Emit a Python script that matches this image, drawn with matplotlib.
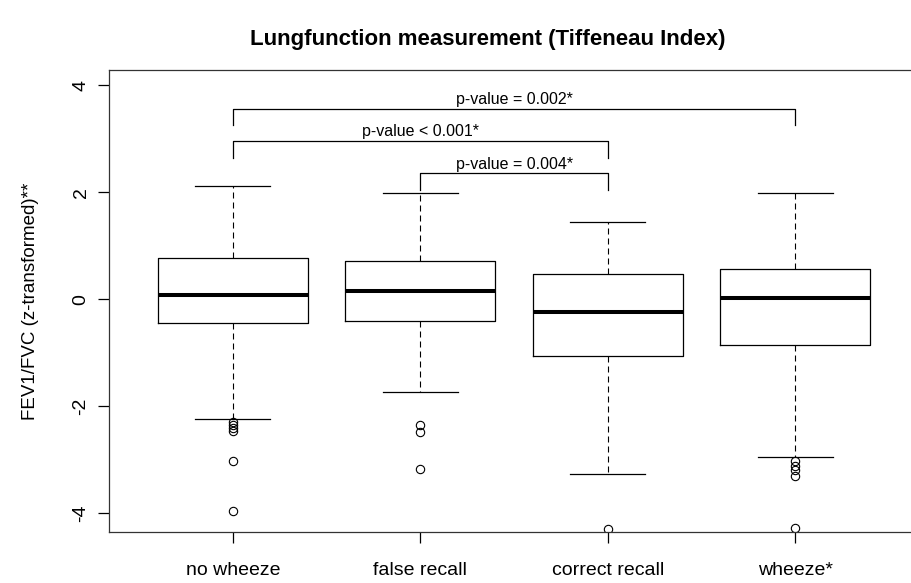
import numpy as np
import matplotlib.pyplot as plt

plt.rcParams['font.family'] = ['Liberation Sans', 'DejaVu Sans']

# Group labels and box statistics
groups = ['no wheeze', 'false recall', 'correct recall', 'wheeze*']
medians = [0.08, 0.16, -0.23, 0.03]
q1 = [-0.45, -0.40, -1.07, -0.86]
q3 = [0.78, 0.72, 0.48, 0.56]
whis_low = [-2.24, -1.73, -3.27, -2.95]
whis_high = [2.12, 1.98, 1.44, 1.98]
outliers = [
    [-2.30, -2.36, -2.41, -2.46, -3.03, -3.97],
    [-2.35, -2.48, -3.18],
    [-4.30],
    [-3.02, -3.12, -3.20, -3.30, -4.29],
]

# Significance brackets: (left group, right group), bar height, leg end, label
brk_pairs = [(1, 4), (1, 3), (2, 3)]
brk_height = [3.56, 2.97, 2.36]
brk_leg = [3.26, 2.64, 2.05]
brk_text = ['p-value = 0.002*', 'p-value < 0.001*', 'p-value = 0.004*']

fig = plt.figure(figsize=(9.11, 5.83), dpi=100)
ax = fig.add_axes([109 / 911, 1 - 531.7 / 583, 810.25 / 911, (531.7 - 70) / 583])

stats = []
for i, name in enumerate(groups):
    stats.append({'label': name, 'med': medians[i], 'q1': q1[i], 'q3': q3[i],
                  'whislo': whis_low[i], 'whishi': whis_high[i],
                  'fliers': outliers[i]})

ax.bxp(stats, positions=range(1, 5), widths=0.8, showfliers=True,
       boxprops=dict(color='black', lw=0.9),
       medianprops=dict(color='black', lw=2.9, solid_capstyle='butt'),
       whiskerprops=dict(color='black', lw=0.8, linestyle=(0, (5.4, 3.6))),
       capprops=dict(color='black', lw=0.9),
       capwidths=0.4,
       flierprops=dict(marker='o', markersize=6, markerfacecolor='none',
                       markeredgecolor='black', markeredgewidth=0.8))

for (a, b), h, leg, txt in zip(brk_pairs, brk_height, brk_leg, brk_text):
    ax.plot([a, a, b, b], [leg, h, h, leg], color='black', lw=0.9)
    ax.text((a + b) / 2, h + 0.03, txt, ha='center', va='bottom', fontsize=11.5)

ax.set_xlim(0.34, 4.66)
ax.set_ylim(-4.35, 4.29)
ax.set_yticks([-4, -2, 0, 2, 4])
ax.set_yticklabels(['-4', '-2', '0', '2', '4'], rotation=90, va='center')
ax.tick_params(axis='both', length=8, width=0.9, labelsize=14, pad=6)
ax.tick_params(axis='x', pad=14)
ax.set_ylabel('FEV1/FVC (z-transformed)**', fontsize=13.5, labelpad=24)
for sp in ax.spines.values():
    sp.set_linewidth(0.9)
    sp.set_color('#333333')

fig.text(0.535, 1 - 40 / 583, 'Lungfunction measurement (Tiffeneau Index)',
         ha='center', va='center', fontsize=16, fontweight='bold')

fig.savefig('out.png', dpi=100)
